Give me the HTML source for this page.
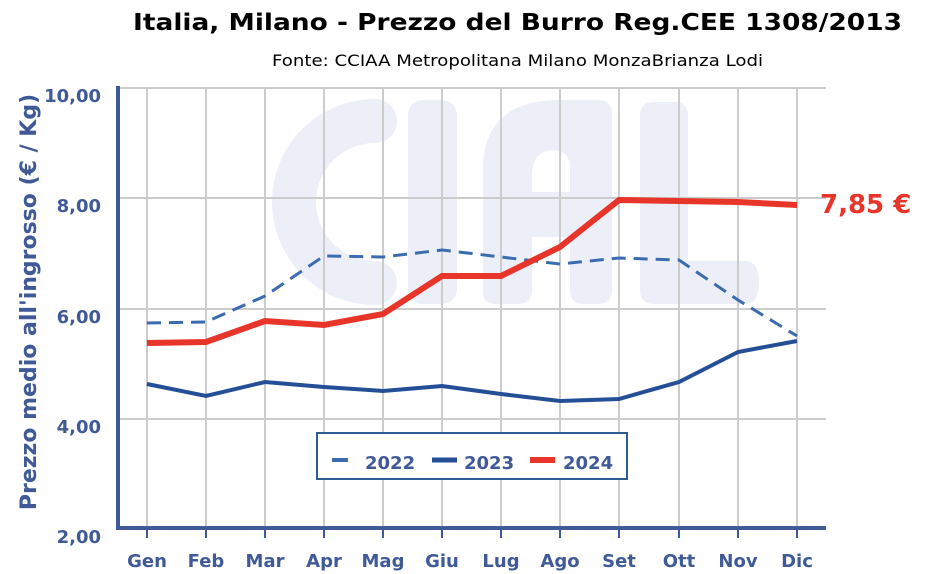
<!DOCTYPE html>
<html><head><meta charset="utf-8"><style>body{margin:0;background:#fff}svg{display:block}</style></head><body>
<svg width="944" height="574" xmlns="http://www.w3.org/2000/svg" font-family="'DejaVu Sans', Verdana, sans-serif">
<text x="133" y="30" font-size="23" font-weight="bold" fill="#000" textLength="769" lengthAdjust="spacingAndGlyphs">Italia, Milano - Prezzo del Burro Reg.CEE 1308/2013</text>
<text x="272" y="66" font-size="16" fill="#000" textLength="491" lengthAdjust="spacingAndGlyphs">Fonte: CCIAA Metropolitana Milano MonzaBrianza Lodi</text>
<g fill="#eceef8">
<path d="M375,121 A81,81 0 0 0 375,283" fill="none" stroke="#eceef8" stroke-width="44" stroke-linecap="round"/>
<rect x="408" y="100" width="49" height="204" rx="15"/>
<path fill-rule="evenodd" d="M483,292 L483,170 Q483,100 560,100 L598,100 Q612,100 612,114 L612,290 Q612,304 598,304 L584,304 Q570,304 570,290 L570,237 L532,237 L532,290 Q532,304 518,304 L497,304 Q483,304 483,292 Z M532,192 L570,192 L570,165 Q568,150 552,150 Q532,152 532,175 Z"/>
<path d="M654,102 L674,102 Q688,102 688,116 L688,261 L745,261 Q759,261 759,282 Q759,304 745,304 L654,304 Q640,304 640,290 L640,116 Q640,102 654,102 Z"/>
</g>
<g stroke="#cccccc" stroke-width="2">
<line x1="118" y1="88" x2="826" y2="88"/><line x1="118" y1="198" x2="826" y2="198"/><line x1="118" y1="309" x2="826" y2="309"/><line x1="118" y1="419" x2="826" y2="419"/>
<line x1="147" y1="88" x2="147" y2="528"/><line x1="206" y1="88" x2="206" y2="528"/><line x1="265" y1="88" x2="265" y2="528"/><line x1="324" y1="88" x2="324" y2="528"/><line x1="383" y1="88" x2="383" y2="528"/><line x1="442" y1="88" x2="442" y2="528"/><line x1="501" y1="88" x2="501" y2="528"/><line x1="560" y1="88" x2="560" y2="528"/><line x1="619" y1="88" x2="619" y2="528"/><line x1="679" y1="88" x2="679" y2="528"/><line x1="738" y1="88" x2="738" y2="528"/><line x1="797" y1="88" x2="797" y2="528"/>
</g>
<g stroke="#3f5a97" stroke-width="2">
<line x1="147" y1="528" x2="147" y2="538"/><line x1="206" y1="528" x2="206" y2="538"/><line x1="265" y1="528" x2="265" y2="538"/><line x1="324" y1="528" x2="324" y2="538"/><line x1="383" y1="528" x2="383" y2="538"/><line x1="442" y1="528" x2="442" y2="538"/><line x1="501" y1="528" x2="501" y2="538"/><line x1="560" y1="528" x2="560" y2="538"/><line x1="619" y1="528" x2="619" y2="538"/><line x1="679" y1="528" x2="679" y2="538"/><line x1="738" y1="528" x2="738" y2="538"/><line x1="797" y1="528" x2="797" y2="538"/>
</g>
<line x1="118" y1="86" x2="118" y2="529" stroke="#3f5a97" stroke-width="4"/>
<line x1="116" y1="528" x2="826" y2="528" stroke="#3f5a97" stroke-width="4"/>
<g font-size="18" font-weight="bold" fill="#3f5a97" text-anchor="end">
<text x="101" y="102">10,00</text><text x="101" y="212">8,00</text><text x="101" y="323">6,00</text><text x="101" y="433">4,00</text><text x="101" y="543">2,00</text>
</g>
<g font-size="18" font-weight="bold" fill="#3f5a97" text-anchor="middle">
<text x="147" y="567">Gen</text><text x="206" y="567">Feb</text><text x="265" y="567">Mar</text><text x="324" y="567">Apr</text><text x="383" y="567">Mag</text><text x="442" y="567">Giu</text><text x="501" y="567">Lug</text><text x="560" y="567">Ago</text><text x="619" y="567">Set</text><text x="679" y="567">Ott</text><text x="738" y="567">Nov</text><text x="797" y="567">Dic</text>
</g>
<text transform="translate(36,302) rotate(-90)" text-anchor="middle" font-size="22" font-weight="bold" fill="#3f5a97">Prezzo medio all'ingrosso (€ / Kg)</text>
<polyline fill="none" stroke="#3b6cb0" stroke-width="3" stroke-dasharray="14,8" points="147,323 206,322 265,296 324,256 383,257 442,250 501,257 560,264 619,258 679,260 738,300 797,336"/>
<polyline fill="none" stroke="#244f97" stroke-width="4" points="147,384 206,396 265,382 324,387 383,391 442,386 501,394 560,401 619,399 679,382 738,352 797,341"/>
<polyline fill="none" stroke="#e8352a" stroke-width="6" points="147,343 206,342 265,321 324,325 383,314 442,276 501,276 560,247 619,200 679,201 738,202 797,205"/>
<text x="820" y="213" font-size="26" font-weight="bold" fill="#e8352a">7,85 €</text>
<rect x="317" y="433" width="310" height="46" fill="#fff" stroke="#2c5f8f" stroke-width="2"/>
<line x1="332" y1="460" x2="348" y2="460" stroke="#3b6cb0" stroke-width="4"/>
<text x="365" y="469" font-size="18" font-weight="bold" fill="#3f5a97">2022</text>
<line x1="432" y1="460" x2="457" y2="460" stroke="#244f97" stroke-width="5"/>
<text x="464" y="469" font-size="18" font-weight="bold" fill="#3f5a97">2023</text>
<line x1="530" y1="460" x2="555" y2="460" stroke="#e8352a" stroke-width="6"/>
<text x="563" y="469" font-size="18" font-weight="bold" fill="#3f5a97">2024</text>
</svg>
</body></html>
